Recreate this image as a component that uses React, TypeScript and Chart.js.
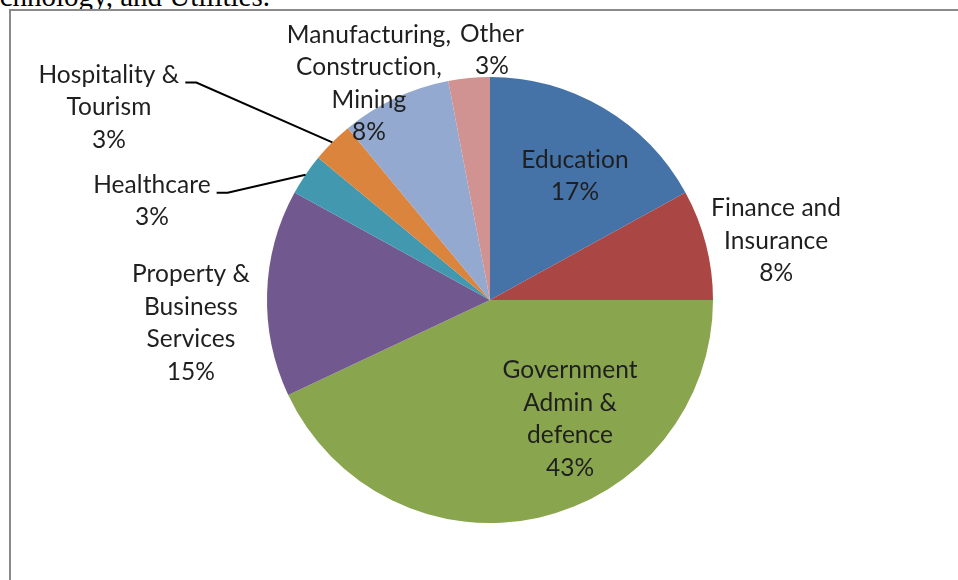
import { useEffect, useRef } from "react";
import { Chart, registerables } from "chart.js";

Chart.register(...registerables);

const categories = [
  "Education",
  "Finance and Insurance",
  "Government Admin & defence",
  "Property & Business Services",
  "Healthcare",
  "Hospitality & Tourism",
  "Manufacturing, Construction, Mining",
  "Other",
];
const shares = [17, 8, 43, 15, 3, 3, 8, 3];
const labelLines = [
  ["Education"],
  ["Finance and", "Insurance"],
  ["Government", "Admin &", "defence"],
  ["Property &", "Business", "Services"],
  ["Healthcare"],
  ["Hospitality &", "Tourism"],
  ["Manufacturing,", "Construction,", "Mining"],
  ["Other"],
];
const sliceColors = [
  "#4572A7",
  "#AA4643",
  "#89A54E",
  "#71588F",
  "#4198AF",
  "#DB843D",
  "#93A9CF",
  "#D19392",
];
// label centre, as a fraction of the pie radius from the pie centre
const labelOffsetX = [0.381, 1.283, 0.359, -1.341, -1.516, -1.709, -0.543, 0.009];
const labelOffsetY = [-0.556, -0.265, 0.534, 0.103, -0.444, -0.865, -0.971, -1.121];
const hasLeader = [false, false, false, false, true, true, false, false];

const FONT = "24.5px Lato";
const LINE_H = 32.5;

const labelPlugin = {
  id: "excelLabels",
  afterDatasetsDraw(chart: any) {
    const ctx = chart.ctx as CanvasRenderingContext2D;
    const meta = chart.getDatasetMeta(0);
    const data = chart.data.datasets[0].data as number[];
    const total = data.reduce((a, b) => a + b, 0);
    ctx.save();
    ctx.font = FONT;
    (ctx as any).letterSpacing = "0.05px";
    ctx.fillStyle = "#1f1f1f";
    ctx.textAlign = "center";
    ctx.textBaseline = "middle";
    meta.data.forEach((arc: any, i: number) => {
      const { x, y, outerRadius, startAngle, endAngle } = arc.getProps(
        ["x", "y", "outerRadius", "startAngle", "endAngle"],
        true
      );
      const lines = [...labelLines[i], Math.round((data[i] / total) * 100) + "%"];
      const cx = x + labelOffsetX[i] * outerRadius;
      const cy = y + labelOffsetY[i] * outerRadius;
      const top = cy - ((lines.length - 1) / 2) * LINE_H;
      lines.forEach((t, k) => ctx.fillText(t, cx, top + k * LINE_H));
      if (hasLeader[i]) {
        const w = ctx.measureText(lines[0]).width;
        const sx = cx + w / 2 + 6;
        const sy = top + 8;
        const mid = (startAngle + endAngle) / 2;
        const ex = x + Math.cos(mid) * outerRadius;
        const ey = y + Math.sin(mid) * outerRadius;
        ctx.beginPath();
        ctx.strokeStyle = "#000";
        ctx.lineWidth = 2;
        ctx.moveTo(sx, sy);
        ctx.lineTo(sx + 11, sy);
        ctx.lineTo(ex, ey);
        ctx.stroke();
      }
    });
    ctx.restore();
  },
};

export default function App() {
  const ref = useRef<HTMLCanvasElement | null>(null);
  useEffect(() => {
    if (!ref.current) return;
    const chart = new Chart(ref.current, {
      type: "pie",
      data: {
        labels: categories,
        datasets: [
          {
            data: shares,
            backgroundColor: sliceColors,
            borderWidth: 0,
          },
        ],
      },
      options: {
        animation: false,
        responsive: false,
        devicePixelRatio: 1,
        layout: { padding: { left: 267, right: 245, top: 77, bottom: 57 } },
        plugins: {
          legend: { display: false },
          tooltip: { enabled: false },
        },
      },
      plugins: [labelPlugin],
    });
    return () => chart.destroy();
  }, []);

  return (
    <div
      style={{
        position: "fixed",
        left: 0,
        top: 0,
        width: 958,
        height: 580,
        overflow: "hidden",
        background: "#fff",
      }}
    >
      <span
        style={{
          position: "absolute",
          right: 688,
          top: -18,
          whiteSpace: "nowrap",
          font: "29px 'Liberation Serif'",
          lineHeight: "29px",
          color: "#000",
        }}
      >
        Information Technology, and Utilities.
      </span>
      <div
        style={{
          position: "absolute",
          left: 9,
          top: 9,
          width: 2000,
          height: 2000,
          border: "2px solid #8a8a8a",
          background: "#fff",
        }}
      />
      <canvas
        ref={ref}
        width={958}
        height={580}
        style={{ position: "absolute", left: 0, top: 0, width: 958, height: 580 }}
      />
    </div>
  );
}
